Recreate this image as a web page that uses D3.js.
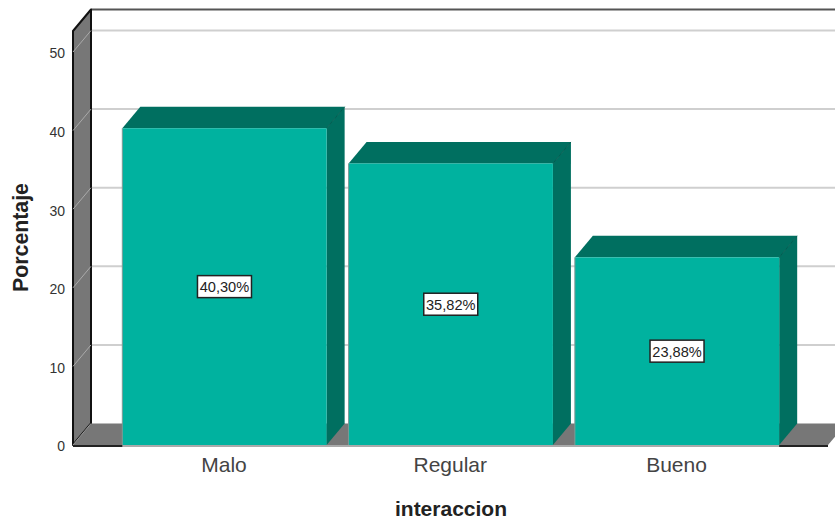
<!DOCTYPE html>
<html><head><meta charset="utf-8">
<script src="https://cdnjs.cloudflare.com/ajax/libs/d3/7.8.5/d3.min.js"></script>
<style>html,body{margin:0;padding:0;background:#fff}svg{display:block}text{font-family:"Liberation Sans",Arial,sans-serif}</style>
</head><body><svg id="c" width="835" height="523"></svg>
<script>
const categories = ["Malo", "Regular", "Bueno"];
const percentages = [40.30, 35.82, 23.88];
const percentLabels = ["40,30%", "35,82%", "23,88%"];
const yTicks = [0, 10, 20, 30, 40, 50];
const xTitle = "interaccion";
const yTitle = "Porcentaje";

const svg = d3.select("#c");
const dx = 18, dy = -21.5;
const yScale = d3.scaleLinear().domain([0, 50]).range([445, 52]);
const xScale = d3.scaleBand().domain(categories).range([111, 790.5]).paddingInner(0.097).paddingOuter(0.05);
const leftX = 73, rightX = 828, topY = 31, base = yScale(0);
const poly = (pts, fill, stroke, sw) => svg.append("polygon")
  .attr("points", pts.map(p => p.join(",")).join(" "))
  .attr("fill", fill).attr("stroke", stroke || "none").attr("stroke-width", sw || 0).attr("stroke-linejoin", "round");

// back-wall grid
svg.append("g").selectAll("line").data(yTicks.slice(1)).join("line")
  .attr("x1", leftX + dx).attr("x2", 835)
  .attr("y1", d => yScale(d) + dy).attr("y2", d => yScale(d) + dy)
  .attr("stroke", "#cfcfcf").attr("stroke-width", 2);
// top edge of back wall
svg.append("line").attr("x1", leftX + dx).attr("x2", 835).attr("y1", topY + dy).attr("y2", topY + dy)
  .attr("stroke", "#555").attr("stroke-width", 2);
// left wall
poly([[leftX, topY], [leftX + dx, topY + dy], [leftX + dx, base + dy], [leftX, base]], "#777", "#111", 2);
// floor
poly([[leftX, base], [leftX + dx, base + dy], [rightX + dx, base + dy], [rightX, base]], "#777");
svg.append("line").attr("x1", leftX + dx).attr("x2", leftX + dx).attr("y1", topY + dy).attr("y2", base + dy)
  .attr("stroke", "#111").attr("stroke-width", 2);
// grid continuation on left wall
svg.append("g").selectAll("line").data(yTicks.slice(1)).join("line")
  .attr("x1", leftX).attr("x2", leftX + dx)
  .attr("y1", d => yScale(d)).attr("y2", d => yScale(d) + dy)
  .attr("stroke", "#aaa").attr("stroke-width", 1);
svg.append("line").attr("x1", leftX).attr("x2", leftX + dx).attr("y1", base).attr("y2", base + dy)
  .attr("stroke", "#999").attr("stroke-width", 1);

// bars
const bars = svg.append("g").selectAll("g").data(categories).join("g");
bars.each(function (c, i) {
  const x0 = xScale(c), x1 = x0 + xScale.bandwidth(), t = yScale(percentages[i]);
  const g = d3.select(this);
  const p = (pts, fill) => g.append("polygon").attr("points", pts.map(q => q.join(",")).join(" ")).attr("fill", fill);
  p([[x0, t], [x0 + dx, t + dy], [x1 + dx, t + dy], [x1, t]], "#006f60");
  p([[x1, t], [x1 + dx, t + dy], [x1 + dx, base + dy], [x1, base]], "#006f60");
  g.append("line").attr("x1", x1).attr("y1", t).attr("x2", x1 + dx).attr("y2", t + dy).attr("stroke", "#005c50").attr("stroke-width", 1);
  g.append("rect").attr("x", x0).attr("y", t).attr("width", xScale.bandwidth()).attr("height", base - t)
    .attr("fill", "#00b29f");
  g.append("line").attr("x1", x0).attr("x2", x0).attr("y1", t).attr("y2", base).attr("stroke", "#7f9a95").attr("stroke-width", 1);
  const cx = x0 + xScale.bandwidth() / 2, cy = (t + base) / 2;
  g.append("rect").attr("x", cx - 27).attr("y", cy - 11).attr("width", 54).attr("height", 22)
    .attr("fill", "#fff").attr("stroke", "#222").attr("stroke-width", 1.5);
  g.append("text").attr("x", cx).attr("y", cy + 5.5).attr("text-anchor", "middle")
    .attr("font-size", 14.6).attr("fill", "#222").text(percentLabels[i]);
});

// baseline
svg.append("line").attr("x1", leftX).attr("x2", rightX).attr("y1", base + 1).attr("y2", base + 1).attr("stroke", "#222").attr("stroke-width", 2);
svg.append("line").attr("x1", xScale(categories[0])).attr("x2", xScale(categories[2]) + xScale.bandwidth()).attr("y1", base + 1).attr("y2", base + 1).attr("stroke", "#aaa").attr("stroke-width", 2);

// axes
const yAxis = svg.append("g").attr("transform", "translate(65,1.5)")
  .call(d3.axisLeft(yScale).tickValues(yTicks).tickSize(0).tickPadding(0));
yAxis.select(".domain").remove();
yAxis.selectAll("text").attr("font-size", 14).attr("fill", "#333");
const xAxis = svg.append("g").attr("transform", "translate(-0.5,457)")
  .call(d3.axisBottom(xScale).tickSize(0).tickPadding(0));
xAxis.select(".domain").remove();
xAxis.selectAll("text").attr("font-size", 21).attr("fill", "#444");
// titles
svg.append("text").attr("x", 451).attr("y", 515.5).attr("text-anchor", "middle")
  .attr("font-size", 21).attr("font-weight", "bold").attr("fill", "#222").text(xTitle);
svg.append("text").attr("transform", "translate(27.5,237.5) rotate(-90)").attr("text-anchor", "middle")
  .attr("font-size", 21.3).attr("font-weight", "bold").attr("fill", "#222").text(yTitle);
</script></body></html>
